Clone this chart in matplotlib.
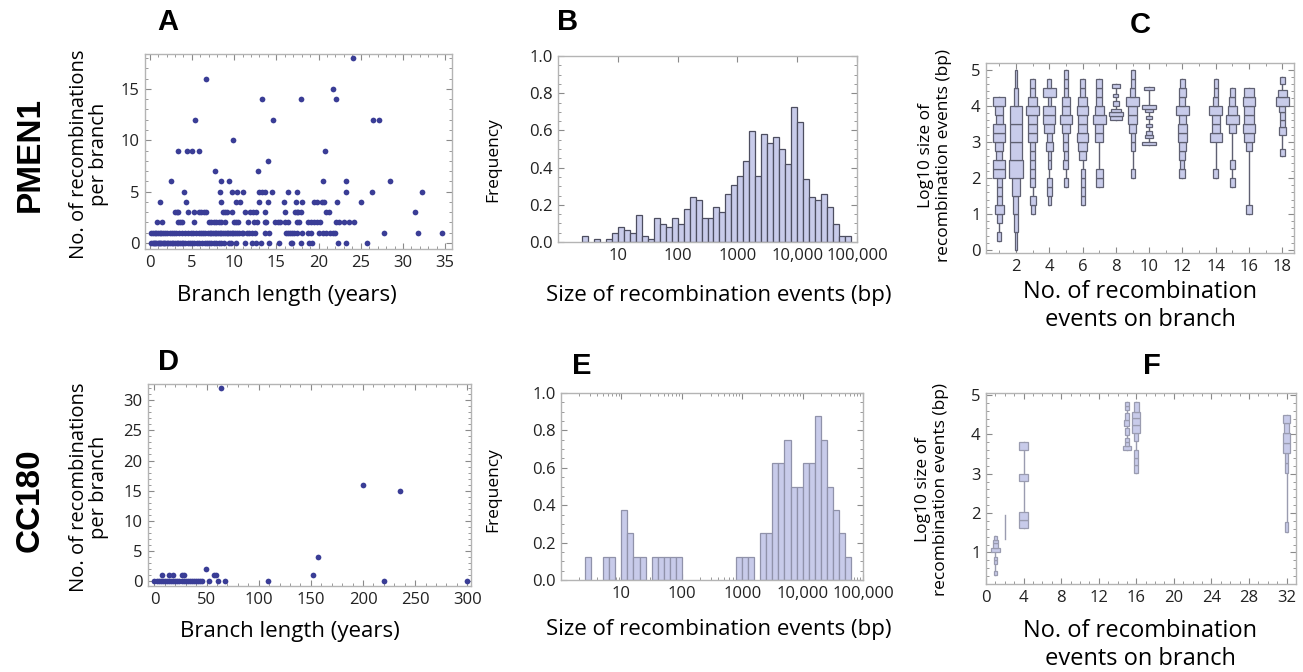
import numpy as np
import matplotlib
matplotlib.use("Agg")
import matplotlib.pyplot as plt
from matplotlib.patches import Rectangle
from matplotlib.ticker import MultipleLocator, FixedLocator, NullFormatter, LogLocator

plt.rcParams['font.family'] = ['Open Sans', 'DejaVu Sans']

# ---------------- DATA ----------------
# Panel A: branch length (years) for each count of recombinations per branch
a_x_c0 = [0.2, 0.35, 0.5, 0.65, 0.8, 0.95, 1.1, 1.25, 1.4, 1.55, 1.7, 1.85, 2.0, 2.2, 2.4, 2.6, 2.8, 3.0,
          3.2, 3.4, 3.6, 3.8, 4.0, 4.2, 4.5, 4.8, 5.0, 5.3, 5.6, 5.9, 6.2, 6.5, 6.8, 7.0, 7.3, 7.6, 7.9,
          8.2, 8.5, 8.8, 9.4, 9.6, 10.2, 11.3, 12.1, 12.6, 13.2, 14.1, 15.3, 16.7, 16.9, 17.9, 18.9,
          19.2, 22.3, 23.2, 25.7]
a_x_c1 = [0.2, 0.4, 0.6, 0.8, 1.0, 1.2, 1.4, 1.6, 1.8, 2.1, 2.4, 2.7, 2.9, 3.1, 3.5, 3.8, 4.2, 4.5,
          4.9, 5.1, 5.5, 5.9, 6.1, 6.3, 6.6, 6.9, 7.1, 7.3, 7.5, 7.7, 7.9, 8.1, 8.3, 8.5, 8.7, 8.9, 9.1,
          9.3, 9.5, 9.7, 9.9, 10.1, 10.4, 10.6, 10.9, 11.1, 11.5, 11.8, 12.1, 12.5, 13.6, 14.1, 16.1,
          16.4, 16.6, 16.9, 17.1, 17.4, 18.0, 18.8, 19.1, 20.0, 20.5, 20.9, 21.3, 21.7, 22.0, 27.7,
          31.8, 34.6]
a_x_c2 = [0.9, 1.5, 3.4, 3.6, 3.8, 5.2, 7.0, 7.3, 7.6, 7.9, 8.2, 8.5, 8.9, 10.0, 10.2, 10.5, 11.6,
          12.4, 12.7, 13.6, 13.8, 14.9, 15.2, 15.4, 16.0, 16.4, 17.5, 17.7, 18.8, 19.1, 19.5, 19.8,
          20.2, 22.1, 22.4, 23.0, 23.6, 24.2]
a_x_c3 = [3.0, 3.2, 3.4, 4.5, 5.2, 5.8, 6.1, 6.4, 6.7, 8.7, 8.9, 9.2, 9.7, 11.3, 11.9, 12.2, 12.6,
          13.6, 16.0, 17.2, 17.4, 17.6, 17.9, 20.9, 21.2, 31.4]
a_x_c4 = [1.2, 4.3, 8.4, 10.2, 10.7, 13.0, 14.0, 15.9, 17.3, 18.0, 19.5, 19.8, 20.4, 20.7, 22.2, 25.0]
a_x_c5 = [4.1, 8.3, 9.7, 10.4, 11.1, 13.0, 13.3, 13.6, 14.5, 16.4, 17.5, 23.3, 26.3, 32.3]
a_x_c6 = [2.5, 8.4, 9.4, 20.5, 23.3, 28.5]
a_x_c7 = [7.7, 12.8]
a_x_c8 = [14.0]
a_x_c9 = [3.3, 4.4, 5.0, 5.9, 20.8]
a_x_c10 = [9.9]
a_x_c12 = [5.4, 14.6, 26.5, 27.2]
a_x_c14 = [13.3, 17.9, 22.1]
a_x_c15 = [21.7]
a_x_c16 = [6.7]
a_x_c18 = [24.1]

# Panel D: branch length (years) and recombinations per branch
d_branch_len = [0, 2, 4, 6, 8, 10, 12, 14, 16, 18, 20, 22, 24, 26, 28, 30, 32, 34, 36, 38, 40, 42, 44,
                46, 52, 61, 68, 109, 220, 300, 7.5, 14, 18, 26, 28, 57, 59, 152, 49, 157, 235, 200, 64]
d_recomb = [0, 0, 0, 0, 0, 0, 0, 0, 0, 0, 0, 0, 0, 0, 0, 0, 0, 0, 0, 0, 0, 0, 0,
            0, 0, 0, 0, 0, 0, 0, 1, 1, 1, 1, 1, 1, 1, 1, 2, 4, 15, 16, 32]

# Panels B / E: histogram of log10 event size, bins of 0.1 starting at log10 = 0.4
hist_bin_start = 0.4
hist_bin_width = 0.1
b_freq = [0.03, 0.0, 0.015, 0.0, 0.015, 0.047, 0.08, 0.063, 0.048, 0.145, 0.03, 0.015, 0.127, 0.097,
          0.08, 0.127, 0.095, 0.176, 0.24, 0.224, 0.127, 0.127, 0.19, 0.16, 0.257, 0.305, 0.354, 0.434,
          0.598, 0.354, 0.578, 0.531, 0.564, 0.5, 0.418, 0.724, 0.645, 0.338, 0.24, 0.224, 0.257, 0.19,
          0.095, 0.03, 0.03]
e_freq = [0.125, 0.0, 0.0, 0.125, 0.125, 0.0, 0.375, 0.25, 0.125, 0.125, 0.0, 0.125, 0.125, 0.125,
          0.125, 0.125, 0.0, 0.0, 0.0, 0.0, 0.0, 0.0, 0.0, 0.0, 0.0, 0.125, 0.125, 0.125, 0.0, 0.25,
          0.25, 0.625, 0.625, 0.75, 0.5, 0.5, 0.625, 0.625, 0.875, 0.75, 0.5, 0.375, 0.25, 0.125]

# Panels C / F: distribution of log10 sizes per number of events on branch
# each segment: (log10 low, log10 high, relative density width)
c_categories = [1, 2, 3, 4, 5, 6, 7, 8, 9, 10, 12, 14, 15, 16, 18]
c_seg_1 = [(0.25, 0.5, 0.26), (0.75, 1.0, 0.28), (1.0, 1.25, 0.56), (1.25, 1.5, 0.32), (1.5, 1.75, 0.32),
           (1.75, 2.0, 0.32), (2.0, 2.25, 0.72), (2.25, 2.5, 0.72), (2.5, 2.75, 0.36), (2.75, 3.0, 0.5),
           (3.0, 3.25, 0.74), (3.25, 3.5, 0.74), (3.5, 3.75, 0.4), (3.75, 4.0, 0.48), (4.0, 4.25, 0.74)]
c_seg_2 = [(0.0, 0.5, 0.14), (0.5, 1.0, 0.2), (1.0, 1.5, 0.3), (1.5, 2.0, 0.44), (2.0, 2.5, 0.8),
           (2.5, 3.0, 0.74), (3.0, 3.5, 0.76), (3.5, 4.0, 0.7), (4.0, 4.5, 0.28), (4.5, 5.0, 0.16)]
c_seg_3 = [(1.0, 1.25, 0.24), (1.25, 1.5, 0.36), (1.75, 2.0, 0.3), (2.0, 2.25, 0.3), (2.25, 2.5, 0.3),
           (2.5, 2.75, 0.3), (2.75, 3.0, 0.3), (3.0, 3.25, 0.56), (3.25, 3.5, 0.56), (3.5, 3.75, 0.56),
           (3.75, 4.0, 0.76), (4.0, 4.25, 0.56), (4.25, 4.5, 0.28), (4.5, 4.75, 0.28)]
c_seg_4 = [(1.25, 1.5, 0.16), (1.5, 1.75, 0.3), (1.75, 2.0, 0.3), (2.25, 2.5, 0.16), (2.5, 2.75, 0.2),
           (2.75, 3.0, 0.44), (3.0, 3.25, 0.3), (3.25, 3.5, 0.6), (3.5, 3.75, 0.7), (3.75, 4.0, 0.7),
           (4.0, 4.25, 0.2), (4.25, 4.5, 0.76), (4.5, 4.75, 0.24)]
c_seg_5 = [(1.75, 2.0, 0.24), (2.25, 2.5, 0.3), (2.5, 2.75, 0.24), (2.75, 3.0, 0.3), (3.0, 3.25, 0.3),
           (3.25, 3.5, 0.5), (3.5, 3.75, 0.76), (3.75, 4.0, 0.5), (4.0, 4.25, 0.5), (4.25, 4.5, 0.2),
           (4.5, 4.75, 0.2), (4.75, 5.0, 0.2)]
c_seg_6 = [(1.25, 1.5, 0.24), (1.5, 1.75, 0.24), (1.75, 2.0, 0.24), (2.0, 2.25, 0.24), (2.5, 2.75, 0.44),
           (2.75, 3.0, 0.5), (3.0, 3.25, 0.7), (3.25, 3.5, 0.5), (3.5, 3.75, 0.5), (3.75, 4.0, 0.7),
           (4.0, 4.25, 0.5), (4.25, 4.5, 0.3), (4.5, 4.75, 0.3)]
c_seg_7 = [(1.75, 2.0, 0.4), (2.0, 2.25, 0.4), (3.0, 3.25, 0.5), (3.25, 3.5, 0.5), (3.5, 3.75, 0.76),
           (3.75, 4.0, 0.56), (4.0, 4.25, 0.36), (4.25, 4.5, 0.36), (4.5, 4.75, 0.36)]
c_seg_8 = [(3.6, 3.7, 0.7), (3.7, 3.82, 0.8), (3.82, 3.92, 0.6), (4.0, 4.12, 0.36), (4.23, 4.33, 0.3),
           (4.5, 4.6, 0.5)]
c_seg_9 = [(2.0, 2.25, 0.24), (2.75, 3.0, 0.24), (3.0, 3.25, 0.24), (3.25, 3.5, 0.4), (3.5, 3.75, 0.5),
           (3.75, 4.0, 0.5), (4.0, 4.25, 0.76), (4.25, 4.5, 0.3), (4.5, 4.75, 0.24), (4.75, 5.0, 0.24)]
c_seg_10 = [(2.9, 3.0, 0.8), (3.09, 3.19, 0.44), (3.2, 3.3, 0.4), (3.4, 3.5, 0.4), (3.62, 3.71, 0.4),
            (3.83, 3.92, 0.5), (3.92, 4.01, 0.84), (4.43, 4.52, 0.56)]
c_seg_12 = [(2.0, 2.25, 0.36), (2.25, 2.5, 0.24), (2.5, 2.75, 0.36), (2.75, 3.0, 0.4), (3.0, 3.25, 0.5),
            (3.25, 3.5, 0.5), (3.5, 3.75, 0.44), (3.75, 4.0, 0.76), (4.0, 4.25, 0.36), (4.25, 4.5, 0.44),
            (4.5, 4.75, 0.3)]
c_seg_14 = [(2.0, 2.25, 0.3), (3.0, 3.25, 0.7), (3.25, 3.5, 0.5), (3.5, 3.75, 0.5), (3.75, 4.0, 0.76),
            (4.0, 4.25, 0.3), (4.25, 4.5, 0.24), (4.5, 4.75, 0.24)]
c_seg_15 = [(1.75, 2.0, 0.3), (2.25, 2.5, 0.3), (3.25, 3.5, 0.4), (3.5, 3.75, 0.76), (3.75, 4.0, 0.5),
            (4.0, 4.25, 0.36), (4.25, 4.5, 0.3)]
c_seg_16 = [(1.0, 1.25, 0.36), (2.75, 3.0, 0.36), (3.0, 3.25, 0.56), (3.25, 3.5, 0.76), (3.5, 3.75, 0.56),
            (3.75, 4.0, 0.56), (4.0, 4.25, 0.76), (4.25, 4.5, 0.6)]
c_seg_18 = [(2.6, 2.8, 0.3), (3.2, 3.41, 0.46), (3.41, 3.6, 0.3), (3.6, 3.83, 0.3), (3.83, 4.0, 0.36),
            (4.0, 4.24, 0.8), (4.24, 4.43, 0.5), (4.6, 4.79, 0.28)]
c_segments = [c_seg_1, c_seg_2, c_seg_3, c_seg_4, c_seg_5, c_seg_6, c_seg_7, c_seg_8, c_seg_9,
              c_seg_10, c_seg_12, c_seg_14, c_seg_15, c_seg_16, c_seg_18]

f_categories = [1, 2, 4, 15, 16, 32]
f_seg_1 = [(0.42, 0.53, 0.39), (0.72, 0.8, 0.39), (0.8, 0.89, 0.39), (1.02, 1.12, 0.89), (1.12, 1.23, 0.6),
           (1.23, 1.31, 0.45), (1.31, 1.42, 0.39)]
f_seg_2 = [(1.33, 1.95, 0.0)]
f_seg_4 = [(1.61, 1.82, 0.89), (1.82, 2.02, 0.89), (2.82, 2.99, 0.89), (3.61, 3.81, 0.89)]
f_seg_15 = [(3.6, 3.71, 0.78), (3.71, 3.8, 0.5), (3.8, 3.9, 0.5), (3.99, 4.16, 0.5), (4.2, 4.37, 0.55),
            (4.37, 4.54, 0.5), (4.62, 4.71, 0.35), (4.71, 4.81, 0.35)]
f_seg_16 = [(3.01, 3.22, 0.4), (3.22, 3.39, 0.4), (3.39, 3.6, 0.4), (3.82, 4.03, 0.45), (4.03, 4.24, 0.89),
            (4.24, 4.41, 0.89), (4.41, 4.58, 0.89), (4.58, 4.81, 0.5)]
f_seg_32 = [(1.53, 1.78, 0.4), (3.01, 3.27, 0.3), (3.27, 3.52, 0.4), (3.52, 3.77, 0.82), (3.77, 4.03, 0.82),
            (4.03, 4.28, 0.6), (4.28, 4.5, 0.82)]
f_segments = [f_seg_1, f_seg_2, f_seg_4, f_seg_15, f_seg_16, f_seg_32]

hist_tick_vals = [10, 100, 1000, 10000, 100000]
hist_tick_labels = ["10", "100", "1000", "10,000", "100,000"]

# ---------------- STYLE / LAYOUT ----------------
W, H = 1303, 672
fig = plt.figure(figsize=(W / 100, H / 100), dpi=100)
fig.patch.set_facecolor("white")

DOT = "#3a3d96"
FILL = "#c8cbea"
FRAME = "#b4b4b4"
TICKFS = 12


def add_ax(l, t, r, b):
    return fig.add_axes([l / W, 1 - b / H, (r - l) / W, (b - t) / H])


def txt(x, y, s, **kw):
    fig.text(x / W, 1 - y / H, s, **kw)


def style(ax):
    for sp in ax.spines.values():
        sp.set_color(FRAME)
        sp.set_linewidth(1.0)
    ax.tick_params(which="both", direction="in", top=True, right=True, color="#8a8a8a",
                   labelsize=TICKFS, labelcolor="#222222", pad=4)
    ax.tick_params(which="major", length=4, width=0.8)
    ax.tick_params(which="minor", length=2.2, width=0.6)


def dist_chart(ax, cats, segs, edge, scale):
    for x, seg in zip(cats, segs):
        lo = min(s[0] for s in seg)
        hi = max(s[1] for s in seg)
        ax.plot([x, x], [lo, hi], color=edge, lw=1.0, zorder=2)
        for (a, b, w) in seg:
            if w <= 0:
                continue
            ww = w * scale
            ax.add_patch(Rectangle((x - ww / 2, a), ww, b - a, facecolor=FILL, edgecolor=edge,
                                   lw=0.9, zorder=3))


# ---------- Panel A ----------
axA = add_ax(145, 54, 452, 249)
style(axA)
a_groups = [(0, a_x_c0), (1, a_x_c1), (2, a_x_c2), (3, a_x_c3), (4, a_x_c4), (5, a_x_c5), (6, a_x_c6),
            (7, a_x_c7), (8, a_x_c8), (9, a_x_c9), (10, a_x_c10), (12, a_x_c12), (14, a_x_c14),
            (15, a_x_c15), (16, a_x_c16), (18, a_x_c18)]
for cnt, xs in a_groups:
    axA.scatter(xs, [cnt] * len(xs), s=17, color=DOT, linewidths=0, zorder=3)
axA.set_xlim(-0.55, 35.8)
axA.set_ylim(-0.58, 18.4)
axA.xaxis.set_major_locator(MultipleLocator(5))
axA.xaxis.set_minor_locator(MultipleLocator(1))
axA.yaxis.set_major_locator(MultipleLocator(5))
axA.yaxis.set_minor_locator(MultipleLocator(1))

# ---------- Panel D ----------
axD = add_ax(148, 384, 471, 586)
style(axD)
axD.scatter(d_branch_len, d_recomb, s=17, color=DOT, linewidths=0, zorder=3)
axD.set_xlim(-6.2, 303.5)
axD.set_ylim(-0.83, 32.7)
axD.xaxis.set_major_locator(MultipleLocator(50))
axD.xaxis.set_minor_locator(MultipleLocator(10))
axD.yaxis.set_major_locator(MultipleLocator(5))
axD.yaxis.set_minor_locator(MultipleLocator(1))


# ---------- Panels B / E ----------
def hist_panel(ax, freqs, edge):
    style(ax)
    lefts = [10 ** (hist_bin_start + i * hist_bin_width) for i in range(len(freqs))]
    rights = [10 ** (hist_bin_start + (i + 1) * hist_bin_width) for i in range(len(freqs))]
    for l, r, f in zip(lefts, rights, freqs):
        if f > 0:
            ax.bar(l, f, width=r - l, align="edge", color=FILL, edgecolor=edge, linewidth=0.9, zorder=2)
    ax.set_xscale("log")
    ax.set_xlim(1.0, 100000)
    ax.set_ylim(0, 1.0)
    ax.xaxis.set_major_locator(FixedLocator(hist_tick_vals))
    ax.set_xticklabels(hist_tick_labels)
    ax.xaxis.set_minor_locator(LogLocator(base=10, subs=np.arange(2, 10)))
    ax.xaxis.set_minor_formatter(NullFormatter())
    ax.yaxis.set_major_locator(MultipleLocator(0.2))
    ax.yaxis.set_minor_locator(MultipleLocator(0.05))
    ax.set_yticklabels([f"{v:.1f}" for v in ax.get_yticks()])


axB = add_ax(558, 56, 857, 242)
hist_panel(axB, b_freq, "#4d4e60")
axE = add_ax(561, 393, 863, 580)
hist_panel(axE, e_freq, "#9092aa")

# ---------- Panel C ----------
axC = add_ax(986, 63, 1294, 253)
style(axC)
dist_chart(axC, c_categories, c_segments, "#5f6072", 1.0)
axC.set_xlim(0.2, 18.7)
axC.set_ylim(-0.08, 5.18)
axC.xaxis.set_major_locator(MultipleLocator(2))
axC.xaxis.set_minor_locator(MultipleLocator(1))
axC.yaxis.set_major_locator(MultipleLocator(1))
axC.yaxis.set_minor_locator(MultipleLocator(0.2))

# ---------- Panel F ----------
axF = add_ax(986, 393, 1296, 584)
style(axF)
dist_chart(axF, f_categories, f_segments, "#9a9cb0", 1.0)
axF.set_xlim(0, 33)
axF.set_ylim(0.2, 5.05)
axF.xaxis.set_major_locator(MultipleLocator(4))
axF.xaxis.set_minor_locator(MultipleLocator(1))
axF.yaxis.set_major_locator(MultipleLocator(1))
axF.yaxis.set_minor_locator(MultipleLocator(0.2))

# ---------------- TEXT ----------------
LAB = 16
txt(30, 155, "PMEN1", rotation=90, ha="center", va="center", fontsize=24, fontweight="bold",
    family=["Liberation Sans", "DejaVu Sans"])
txt(30, 500, "CC180", rotation=90, ha="center", va="center", fontsize=24, fontweight="bold",
    family=["Liberation Sans", "DejaVu Sans"])
for x, y, s in [(168, 22, "A"), (568, 22, "B"), (1140, 25, "C"), (168, 362, "D"), (582, 366, "E"),
                (1152, 366, "F")]:
    txt(x, y, s, ha="center", va="center", fontsize=21, fontweight="bold",
        family=["Liberation Sans", "DejaVu Sans"])

ylab_branch = "No. of recombinations\nper branch"
txt(89, 154, ylab_branch, rotation=90, ha="center", va="center", fontsize=14.5, linespacing=1.05)
txt(89, 487, ylab_branch, rotation=90, ha="center", va="center", fontsize=14.5, linespacing=1.05)
txt(287, 295, "Branch length (years)", ha="center", va="center", fontsize=LAB)
txt(290, 632, "Branch length (years)", ha="center", va="center", fontsize=LAB)

txt(493, 160, "Frequency", rotation=90, ha="center", va="center", fontsize=12.5)
txt(493, 490, "Frequency", rotation=90, ha="center", va="center", fontsize=12.5)
txt(719, 296, "Size of recombination events (bp)", ha="center", va="center", fontsize=LAB)
txt(719, 630, "Size of recombination events (bp)", ha="center", va="center", fontsize=LAB)

ylab_log = "Log10 size of\nrecombination events (bp)"
txt(935, 156, ylab_log, rotation=90, ha="center", va="center", fontsize=12.5, linespacing=1.1)
txt(932, 490, ylab_log, rotation=90, ha="center", va="center", fontsize=12.5, linespacing=1.1)
xlab_n = "No. of recombination\nevents on branch"
txt(1140, 306, xlab_n, ha="center", va="center", fontsize=17, linespacing=1.2)
txt(1140, 645, xlab_n, ha="center", va="center", fontsize=17, linespacing=1.2)

fig.savefig("out.png", dpi=100)
